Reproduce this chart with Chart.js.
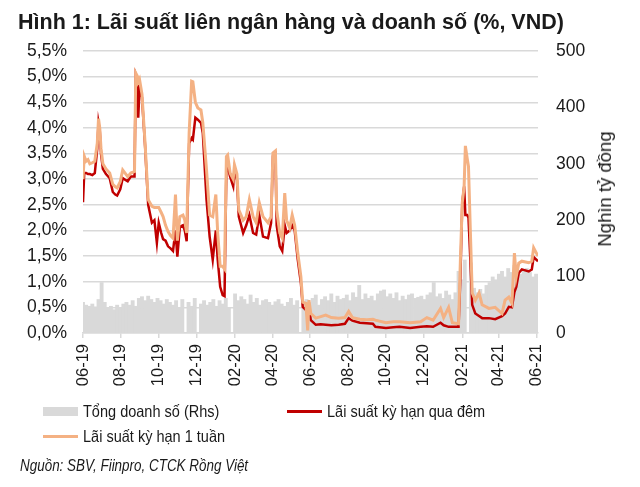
<!DOCTYPE html>
<html>
<head>
<meta charset="utf-8">
<script src="https://cdn.jsdelivr.net/npm/chart.js@4.4.1/dist/chart.umd.min.js"></script>
<style>
  html, body { margin: 0; padding: 0; background: #fff; }
  #wrap { position: relative; width: 640px; height: 487px; overflow: hidden; font-family: "Liberation Sans", Arial, sans-serif; color: #1a1a1a; }
  #c { position: absolute; left: 0; top: 0; }
  .t { position: absolute; white-space: nowrap; transform-origin: 0 50%; }
  #title { left: 18px; top: 8px; font-size: 21.5px; font-weight: bold; line-height: 28px; }
  #rtitle { left: 605px; top: 189px; font-size: 18.5px; transform: translate(-50%, -50%) rotate(-90deg); transform-origin: 50% 50%; line-height: 20px; }
  .leg { font-size: 16.5px; line-height: 20px; transform: scaleX(0.88); }
  .sw { position: absolute; }
  #src { left: 20px; top: 456px; font-size: 16px; font-style: italic; line-height: 20px; transform: scaleX(0.84); }
</style>
</head>
<body>
<div id="wrap">
  <canvas id="c" width="640" height="487"></canvas>
  <div class="t" id="title">Hình 1: Lãi suất liên ngân hàng và doanh số (%, VND)</div>
  <div class="t" id="rtitle">Nghìn tỷ đồng</div>
  <div class="sw" style="left:43px; top:407px; width:35px; height:9px; background:#d9d9d9;"></div>
  <div class="t leg" style="left:83px; top:401px;">Tổng doanh số (Rhs)</div>
  <div class="sw" style="left:287px; top:410px; width:35px; height:3px; background:#c00000;"></div>
  <div class="t leg" style="left:327px; top:401px;">Lãi suất kỳ hạn qua đêm</div>
  <div class="sw" style="left:43px; top:435px; width:35px; height:3px; background:#f4b183;"></div>
  <div class="t leg" style="left:83px; top:426px;">Lãi suất kỳ hạn 1 tuần</div>
  <div class="t" id="src">Nguồn: SBV, Fiinpro, CTCK Rồng Việt</div>
</div>
<script>
// x positions are days counted from 01-06-2019
const tickDays   = [0, 61, 122, 183, 245, 305, 366, 427, 488, 549, 611, 670, 731];
const tickLabels = ["06-19","08-19","10-19","12-19","02-20","04-20","06-20","08-20","10-20","12-20","02-21","04-21","06-21"];

// interbank rates (%)
const rateDays = [0,2,5,8,11,15,19,23,25,27,29,32,37,43,48,52,55,60,64,69,72,77,83,85,88,89,91,95,100,105,111,115,119,122,126,129,133,137,141,145,149,152,156,161,164,167,171,175,177,181,185,190,193,199,204,209,214,217,221,225,228,231,233,237,242,244,248,251,258,263,268,274,279,284,290,298,303,306,310,312,317,321,325,328,333,337,341,346,351,354,359,362,364,367,375,383,391,400,412,422,428,434,446,457,467,471,488,500,510,527,544,554,564,576,581,589,595,605,608,611,614,616,619,621,624,627,632,638,643,654,664,675,680,686,691,695,698,702,707,718,723,726,733];
const overnight = [2.55,3.12,3.12,3.10,3.10,3.08,3.12,3.60,4.10,3.95,3.50,3.20,3.10,3.02,2.75,2.70,2.68,2.80,3.02,2.98,2.96,3.05,3.05,5.05,4.95,4.20,4.75,4.60,3.65,2.50,2.15,2.20,1.76,2.15,1.95,1.83,1.80,1.69,1.65,1.60,2.00,1.49,2.07,2.10,2.00,1.79,3.70,3.80,3.77,4.20,4.16,4.10,3.90,2.60,1.88,1.43,2.00,1.43,0.90,0.74,0.72,3.20,3.25,3.05,2.86,3.18,2.98,2.27,1.95,2.10,2.30,1.95,1.92,2.30,1.88,1.85,2.15,3.45,3.50,2.10,1.69,1.60,2.10,1.95,2.00,2.10,2.00,1.43,0.98,0.51,0.45,0.40,0.51,0.25,0.16,0.17,0.16,0.15,0.16,0.18,0.29,0.24,0.20,0.19,0.18,0.12,0.10,0.11,0.12,0.10,0.12,0.13,0.12,0.20,0.15,0.12,0.12,0.12,1.10,2.54,2.86,2.30,2.30,2.25,1.43,0.55,0.38,0.33,0.29,0.29,0.27,0.33,0.38,0.51,0.50,0.80,0.90,1.17,1.24,1.20,1.24,1.48,1.40];
const oneWeek   = [3.00,3.45,3.35,3.38,3.30,3.32,3.35,3.70,4.18,4.00,3.60,3.30,3.20,3.12,2.90,2.85,2.83,2.95,3.18,3.10,3.05,3.12,3.15,5.07,5.00,4.90,4.95,4.66,3.70,2.60,2.47,2.45,2.45,2.45,2.35,2.27,2.10,1.98,1.90,1.85,2.70,1.80,2.27,2.30,2.20,1.95,3.90,4.91,4.90,4.50,4.39,4.35,4.10,3.18,2.30,2.27,2.70,1.95,1.30,1.30,1.25,3.44,3.47,3.12,3.00,3.28,3.10,2.40,2.20,2.27,2.60,2.27,2.15,2.54,2.27,2.15,2.27,3.51,3.55,2.40,1.95,1.85,2.73,2.20,2.05,2.30,2.10,1.56,1.10,0.60,0.58,0.05,0.64,0.38,0.29,0.32,0.35,0.30,0.29,0.30,0.42,0.30,0.27,0.26,0.27,0.25,0.20,0.22,0.22,0.20,0.22,0.30,0.25,0.48,0.30,0.50,0.20,0.18,1.43,2.54,2.86,3.65,3.40,3.25,2.00,0.78,0.64,0.78,0.55,0.48,0.50,0.38,0.64,0.70,0.58,1.56,1.10,1.36,1.40,1.37,1.40,1.66,1.50];

// total turnover (thousand bn VND), one value every 5 days from day 0
const turnover = [55,50,48,52,47,60,90,55,45,48,42,50,46,52,55,50,58,48,62,65,58,66,60,55,62,58,52,60,55,50,58,45,60,0,55,48,62,0,52,58,50,55,60,48,58,52,62,45,0,70,58,65,60,52,68,55,62,50,58,60,55,50,56,60,52,48,55,62,50,58,0,55,60,55,62,68,50,60,65,58,70,55,66,60,62,68,58,72,64,85,60,70,62,66,58,70,75,77,65,70,62,72,58,66,60,68,70,62,64,66,60,68,72,90,65,70,62,75,68,60,72,110,95,130,0,125,80,72,78,70,85,90,100,95,105,110,100,115,108,120,112,105,110,115,108,100,105,98];
const turnoverStep = 5;

const barPts = turnover.map((v, i) => ({ x: i * turnoverStep, y: v }));
const onPts = rateDays.map((d, i) => ({ x: d, y: overnight[i] }));
const wkPts = rateDays.map((d, i) => ({ x: d, y: oneWeek[i] }));

const FAM = '"Liberation Sans", Arial, sans-serif';
const GRID = '#d9d9d9';

new Chart(document.getElementById('c'), {
  data: {
    datasets: [
      { type: 'line', label: 'Lãi suất kỳ hạn 1 tuần', data: wkPts, yAxisID: 'yL', borderColor: '#f4b183', borderWidth: 3, pointRadius: 0, tension: 0, order: 1 },
      { type: 'line', label: 'Lãi suất kỳ hạn qua đêm', data: onPts, yAxisID: 'yL', borderColor: '#c00000', borderWidth: 2.5, pointRadius: 0, tension: 0, order: 2 },
      { type: 'bar', label: 'Tổng doanh số (Rhs)', data: barPts, yAxisID: 'yR', backgroundColor: '#d9d9d9', barPercentage: 1.25, categoryPercentage: 1, order: 3 }
    ]
  },
  options: {
    responsive: false,
    animation: false,
    events: [],
    layout: { padding: { top: 51, left: 0, right: 0, bottom: 94 } },
    plugins: { legend: { display: false }, tooltip: { enabled: false } },
    scales: {
      x: {
        type: 'linear', min: 0, max: 733, offset: false,
        afterBuildTicks: (s) => { s.ticks = tickDays.map(v => ({ value: v })); },
        afterFit: (s) => { s.height = 60; s.paddingLeft = 0; s.paddingRight = 0; },
        grid: { display: true, offset: false, drawOnChartArea: false, drawTicks: true, tickLength: 5, color: GRID, lineWidth: 1.5 },
        border: { display: true, color: GRID, width: 1.5 },
        ticks: { autoSkip: false, maxRotation: 90, minRotation: 90, padding: 6, color: '#1a1a1a', font: { family: FAM, size: 16.5 },
          callback: (v) => { const k = tickDays.indexOf(v); return k >= 0 ? tickLabels[k] : ''; } }
      },
      yL: {
        position: 'left', min: 0, max: 5.5,
        afterFit: (s) => { s.width = 83; },
        grid: { color: GRID, lineWidth: 1.5, drawTicks: false },
        border: { display: false },
        ticks: { stepSize: 0.5, padding: 16, color: '#1a1a1a', font: { family: FAM, size: 17.5 },
          callback: (v) => v.toFixed(1).replace('.', ',') + '%' }
      },
      yR: {
        position: 'right', min: 0, max: 500,
        afterFit: (s) => { s.width = 102; },
        grid: { display: false, drawTicks: false },
        border: { display: false },
        ticks: { stepSize: 100, padding: 18, color: '#1a1a1a', font: { family: FAM, size: 17.5 } }
      }
    }
  }
});
</script>
</body>
</html>
